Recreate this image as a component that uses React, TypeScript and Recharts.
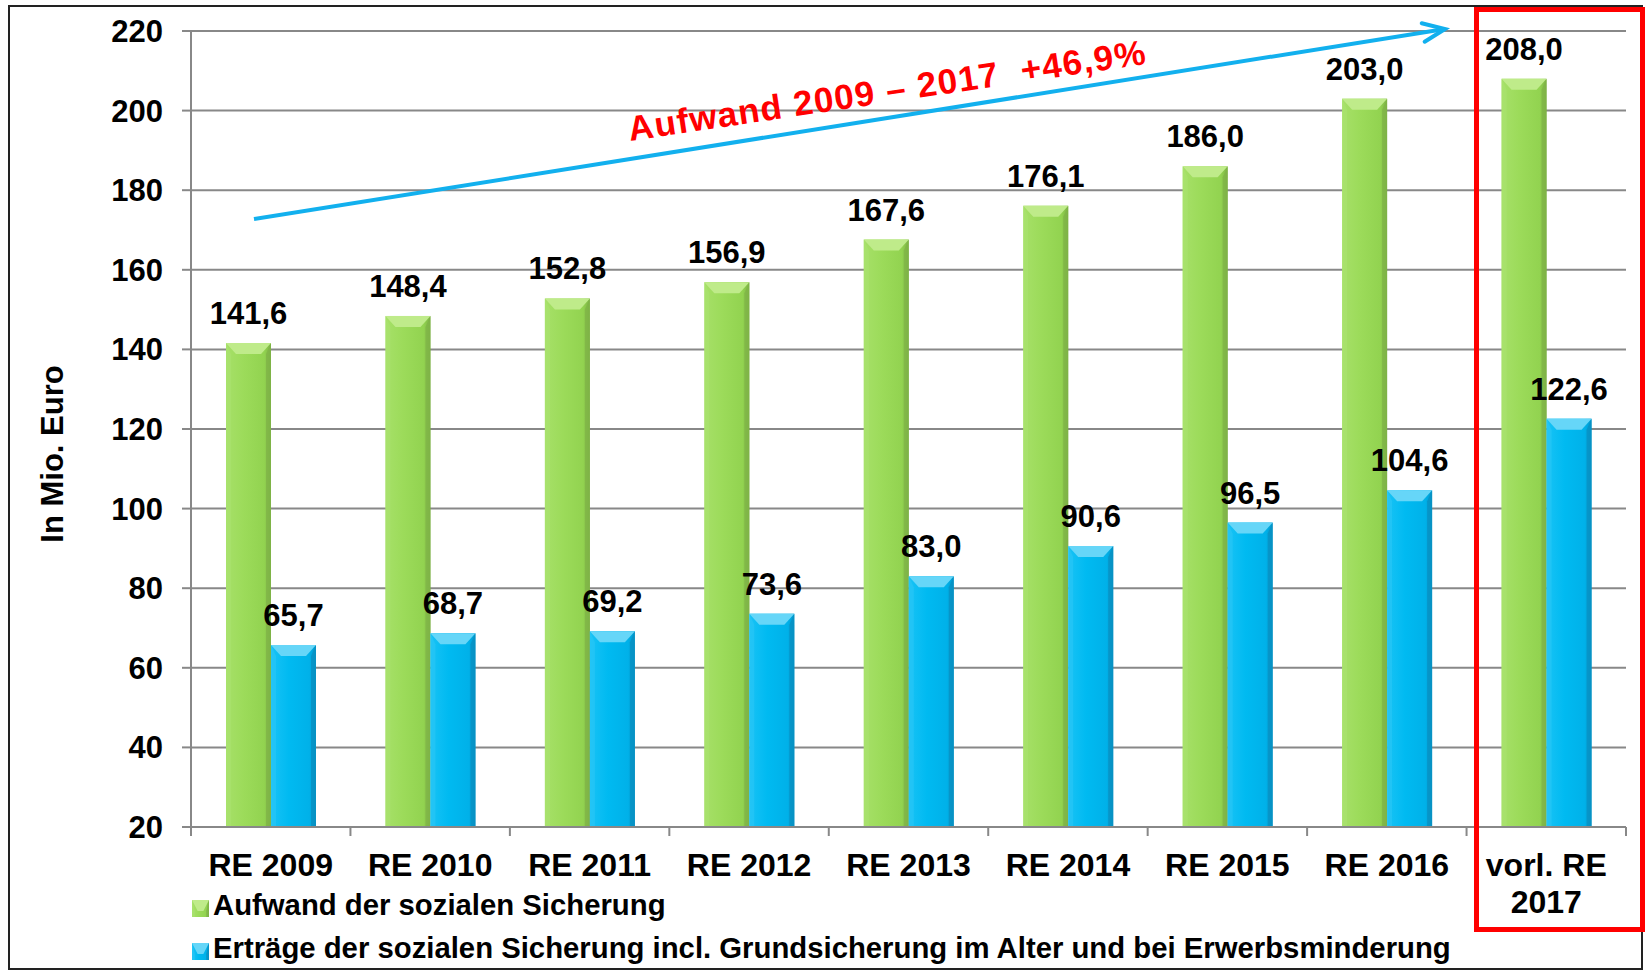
import React from "react";
import { BarChart, Bar, XAxis, YAxis, CartesianGrid, LabelList } from "recharts";

const categories = ["RE 2009", "RE 2010", "RE 2011", "RE 2012", "RE 2013", "RE 2014", "RE 2015", "RE 2016", "vorl. RE\n2017"];
const aufwand = [141.6, 148.4, 152.8, 156.9, 167.6, 176.1, 186.0, 203.0, 208.0];
const ertraege = [65.7, 68.7, 69.2, 73.6, 83.0, 90.6, 96.5, 104.6, 122.6];
const yTicks = [20, 40, 60, 80, 100, 120, 140, 160, 180, 200, 220];
const seriesNames = [
  "Aufwand der sozialen Sicherung",
  "Erträge der sozialen Sicherung incl. Grundsicherung im Alter und bei Erwerbsminderung",
];
const annotation = "Aufwand 2009 – 2017  +46,9%";

const data = categories.map((name, i) => ({ name, aufwand: aufwand[i], ertraege: ertraege[i] }));

const W = 1648;
const H = 971;
const PLOT_L = 191;
const PLOT_R = 1626;
const PLOT_T = 31;
const PLOT_B = 827;
const FONT = "'Liberation Sans', Arial, sans-serif";
const GRID = "#888888";

const TONES: Record<string, { grad: string; top: string; left: string; right: string }> = {
  green: { grad: "gGreen", top: "#bfeb8a", left: "#aae36f", right: "#7fb347" },
  blue: { grad: "gBlue", top: "#66d6f8", left: "#2cc6f5", right: "#0a8fc0" },
};

const fmt = (v: number) => v.toFixed(1).replace(".", ",");

function BevelBar(props: any) {
  const { x, y, width: w, height: h, tone } = props;
  if (!h || h <= 0) return null;
  const t = TONES[tone];
  const b = Math.min(11, h);
  const s = Math.min(10, w / 3);
  const e = Math.min(5, w / 6);
  return (
    <g>
      <rect x={x} y={y} width={w} height={h} fill={`url(#${t.grad})`} />
      <polygon points={`${x},${y} ${x + e},${y + b} ${x + e},${y + h} ${x},${y + h}`} fill={t.left} opacity={0.6} />
      <polygon points={`${x + w},${y} ${x + w - e},${y + b} ${x + w - e},${y + h} ${x + w},${y + h}`} fill={t.right} opacity={0.75} />
      <polygon points={`${x},${y} ${x + w},${y} ${x + w - s},${y + b} ${x + s},${y + b}`} fill={t.top} />
    </g>
  );
}

function ValueLabel(props: any) {
  const { x, y, width, value } = props;
  return (
    <text x={x + width / 2} y={y - 19} textAnchor="middle" fontFamily={FONT} fontWeight={700} fontSize={31} fill="#000">
      {fmt(value)}
    </text>
  );
}

function CategoryTick(props: any) {
  const { x, payload, index } = props;
  const band = (PLOT_R - PLOT_L) / categories.length;
  const lines = String(payload.value).split("\n");
  const last = index === categories.length - 1;
  return (
    <g>
      <line x1={x - band / 2} x2={x - band / 2} y1={PLOT_B} y2={PLOT_B + 9} stroke={GRID} strokeWidth={2} />
      {last && <line x1={x + band / 2} x2={x + band / 2} y1={PLOT_B} y2={PLOT_B + 9} stroke={GRID} strokeWidth={2} />}
      <text textAnchor="middle" fontFamily={FONT} fontWeight={700} fontSize={32} fill="#000">
        {lines.map((l, i) => (
          <tspan key={i} x={x} y={PLOT_B + 49 + i * 37}>
            {l}
          </tspan>
        ))}
      </text>
    </g>
  );
}

// arrow geometry (annotation)
const ARROW = { x1: 254, y1: 219, x2: 1445, y2: 29 };
function arrowHead() {
  const ang = Math.atan2(ARROW.y1 - ARROW.y2, ARROW.x1 - ARROW.x2);
  const len = 24;
  const spread = (23 * Math.PI) / 180;
  const p1 = [ARROW.x2 + len * Math.cos(ang + spread), ARROW.y2 + len * Math.sin(ang + spread)];
  const p2 = [ARROW.x2 + len * Math.cos(ang - spread), ARROW.y2 + len * Math.sin(ang - spread)];
  return `M${p1[0]},${p1[1]} L${ARROW.x2},${ARROW.y2} L${p2[0]},${p2[1]}`;
}

export default function App() {
  return (
    <div style={{ position: "relative", width: W, height: H, background: "#fff", fontFamily: FONT }}>
      <style>{"body{margin:0}"}</style>
      <svg width={0} height={0} style={{ position: "absolute" }}>
        <defs>
          <linearGradient id="gGreen" x1="0" y1="0" x2="1" y2="0">
            <stop offset="0" stopColor="#a6e068" />
            <stop offset="0.4" stopColor="#9cdb5a" />
            <stop offset="0.85" stopColor="#92d350" />
            <stop offset="1" stopColor="#7cb244" />
          </linearGradient>
          <linearGradient id="gBlue" x1="0" y1="0" x2="1" y2="0">
            <stop offset="0" stopColor="#18c2f5" />
            <stop offset="0.4" stopColor="#00baf1" />
            <stop offset="0.85" stopColor="#00b1e9" />
            <stop offset="1" stopColor="#0098cd" />
          </linearGradient>
        </defs>
      </svg>

      <BarChart
        width={W}
        height={H}
        data={data}
        margin={{ top: PLOT_T, right: W - PLOT_R, left: 0, bottom: 0 }}
        barGap={0}
        barSize={45}
      >
        <CartesianGrid vertical={false} stroke={GRID} strokeWidth={2} />
        <YAxis
          type="number"
          domain={[20, 220]}
          ticks={yTicks}
          width={PLOT_L}
          interval={0}
          tickSize={9}
          tickMargin={19}
          axisLine={{ stroke: GRID, strokeWidth: 2 }}
          tickLine={{ stroke: GRID, strokeWidth: 2 }}
          tick={{ fill: "#000", fontSize: 31, fontWeight: 700, fontFamily: FONT }}
        />
        <XAxis
          dataKey="name"
          height={H - PLOT_B}
          interval={0}
          tickLine={false}
          axisLine={{ stroke: GRID, strokeWidth: 2 }}
          tick={<CategoryTick />}
        />
        <Bar dataKey="aufwand" name={seriesNames[0]} isAnimationActive={false} shape={(p: any) => <BevelBar {...p} tone="green" />}>
          <LabelList dataKey="aufwand" content={<ValueLabel />} />
        </Bar>
        <Bar dataKey="ertraege" name={seriesNames[1]} isAnimationActive={false} shape={(p: any) => <BevelBar {...p} tone="blue" />}>
          <LabelList dataKey="ertraege" content={<ValueLabel />} />
        </Bar>
      </BarChart>

      <svg width={W} height={H} style={{ position: "absolute", left: 0, top: 0, pointerEvents: "none" }}>
        <rect x={9} y={6} width={1633} height={963} fill="none" stroke="#222" strokeWidth={2} />
        <text
          transform="rotate(-90, 62.7, 454)"
          x={62.7}
          y={454}
          textAnchor="middle"
          fontFamily={FONT}
          fontWeight={700}
          fontSize={31}
          fill="#000"
        >
          In Mio. Euro
        </text>

        <line x1={ARROW.x1} y1={ARROW.y1} x2={ARROW.x2} y2={ARROW.y2} stroke="#12b0ee" strokeWidth={4} />
        <path d={arrowHead()} fill="none" stroke="#12b0ee" strokeWidth={4} strokeLinecap="round" />
        <text
          transform="rotate(-8.5, 630, 141)"
          x={630}
          y={141}
          fontFamily={FONT}
          fontWeight={700}
          fontSize={35}
          letterSpacing={1.2}
          fill="#ff0000"
          style={{ whiteSpace: "pre" }}
        >
          {annotation}
        </text>

        {seriesNames.map((n, i) => (
          <g key={n}>
            <BevelBar x={192} y={900 + i * 43} width={17} height={17} tone={i === 0 ? "green" : "blue"} />
            <text x={213} y={915 + i * 43} fontFamily={FONT} fontWeight={700} fontSize={29.3} fill="#000">
              {n}
            </text>
          </g>
        ))}

        <rect x={1476.5} y={9.5} width={166} height={920} fill="none" stroke="#ff0000" strokeWidth={5} />
      </svg>
    </div>
  );
}
